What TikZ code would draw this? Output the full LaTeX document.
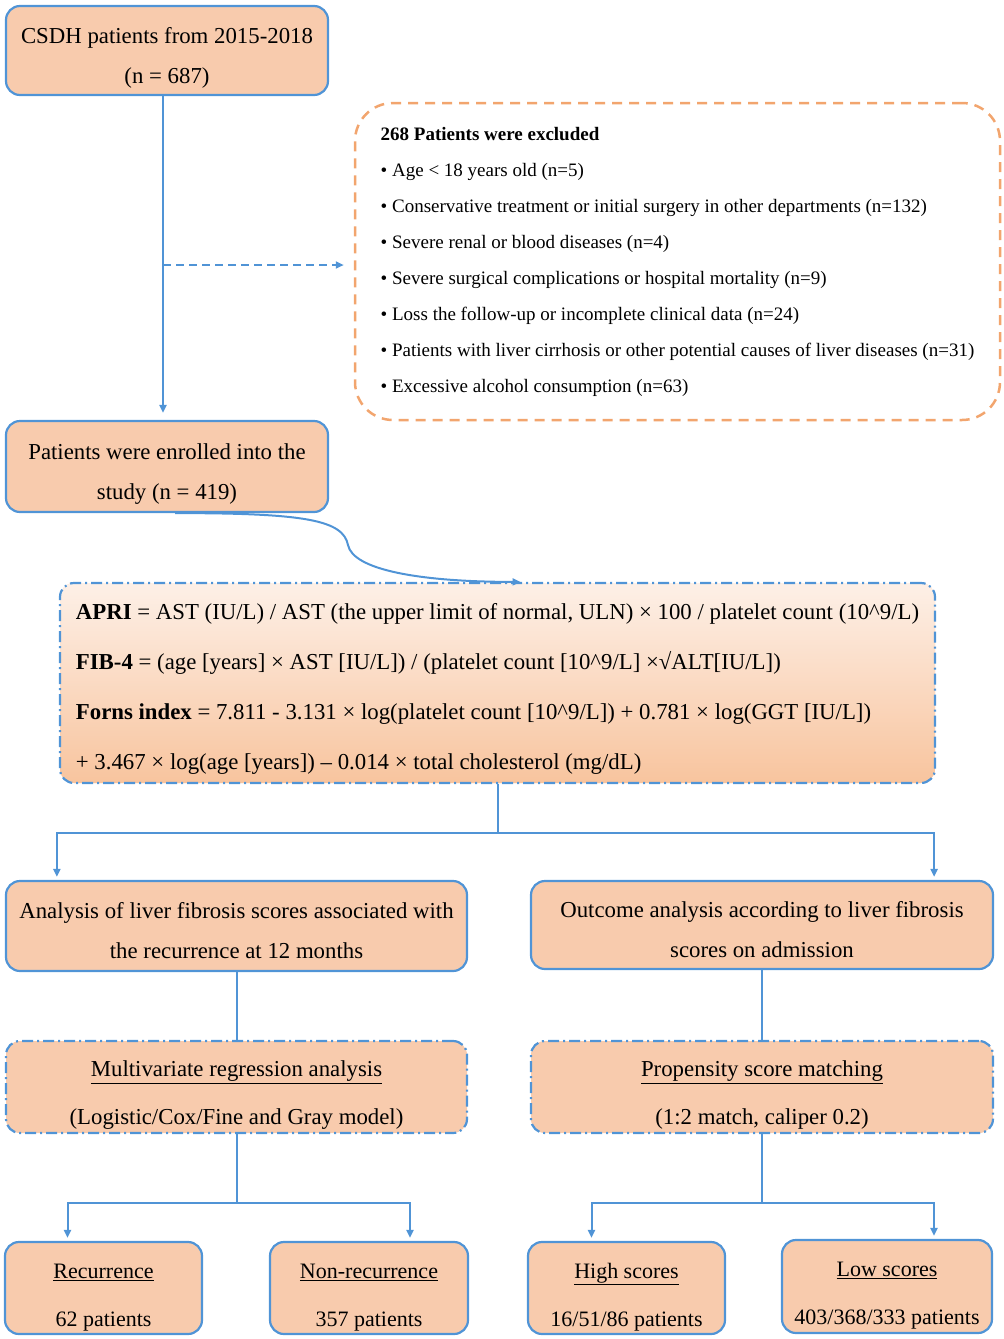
\documentclass[tikz,border=0pt]{standalone}
\usepackage{fontspec}
\setmainfont{Liberation Serif}
\usetikzlibrary{arrows.meta}

\definecolor{flowblue}{RGB}{80,148,214}
\definecolor{peach}{RGB}{248,203,173}
\definecolor{peachlight}{RGB}{253,240,231}
\definecolor{peachdeep}{RGB}{248,196,158}
\definecolor{exclorange}{RGB}{242,165,110}

% tall strut on the first line pushes the text down inside a box
\newcommand{\topgap}[1]{\rule{0pt}{#1pt}}

\begin{document}
\begin{tikzpicture}[x=1pt, y=-1pt,
    box/.style={draw=flowblue, line width=2.2pt, fill=peach, rounded corners=14pt, align=center, inner sep=0pt},
    dashdotbox/.style={box, dash pattern=on 11pt off 4pt on 2pt off 4pt},
    link/.style={draw=flowblue, line width=2pt},
    arrow/.style={link, -{Triangle[length=8pt,width=7pt]}},
    bigtext/.style={font=\fontsize{22.8}{40}\selectfont},
    twoline/.style={font=\fontsize{22.8}{48}\selectfont},
    grouptext/.style={font=\fontsize{22}{48}\selectfont}
]
\useasboundingbox (0,0) rectangle (1004,1339);

    % start
    \node[box, bigtext, minimum width=322, minimum height=89] (start) at (167,50.5)
        {\topgap{30}CSDH patients from 2015-2018\\(n = 687)};

    % excluded patients
    \node[draw=exclorange, line width=2.5pt, dash pattern=on 10pt off 7pt, rounded corners=38pt,
          fill=white, minimum width=645, minimum height=317, inner sep=0pt, align=left,
          font=\fontsize{19}{36}\selectfont] (excl) at (677.5,261.5)
        {\textbf{268 Patients were excluded}\\
         \textbullet\ Age < 18 years old (n=5)\\
         \textbullet\ Conservative treatment or initial surgery in other departments (n=132)\\
         \textbullet\ Severe renal or blood diseases (n=4)\\
         \textbullet\ Severe surgical complications or hospital mortality (n=9)\\
         \textbullet\ Loss the follow-up or incomplete clinical data (n=24)\\
         \textbullet\ Patients with liver cirrhosis or other potential causes of liver diseases (n=31)\\
         \textbullet\ Excessive alcohol consumption (n=63)};

    % enrolled
    \node[box, bigtext, minimum width=322, minimum height=91] (enrolled) at (167,466.5)
        {\topgap{30}Patients were enrolled into the\\study (n = 419)};

    % scores
    \node[dashdotbox, top color=peachlight, bottom color=peachdeep, minimum width=875,
          minimum height=200, align=left, font=\fontsize{22.8}{50}\selectfont] (formula) at (497.5,683)
        {\topgap{28}\textbf{APRI} = AST (IU/L) / AST (the upper limit of normal, ULN) × 100 / platelet count (10\textasciicircum 9/L)\\
         \textbf{FIB-4} = (age [years] × AST [IU/L]) / (platelet count [10\textasciicircum 9/L] ×√ALT[IU/L])\\
         \textbf{Forns index} = 7.811 - 3.131 × log(platelet count [10\textasciicircum 9/L]) + 0.781 × log(GGT [IU/L])\\
         + 3.467 × log(age [years]) – 0.014 × total cholesterol (mg/dL)};

    % two analyses
    \node[box, bigtext, minimum width=461, minimum height=90] (analysis) at (236.5,926)
        {\topgap{26}Analysis of liver fibrosis scores associated with\\the recurrence at 12 months};
    \node[box, bigtext, minimum width=462, minimum height=88] (outcome) at (762,925)
        {\topgap{26}Outcome analysis according to liver fibrosis\\scores on admission};

    \node[dashdotbox, twoline, minimum width=461, minimum height=92] (multi) at (236.5,1087)
        {\topgap{32}\underline{Multivariate regression analysis}\\(Logistic/Cox/Fine and Gray model)};
    \node[dashdotbox, twoline, minimum width=462, minimum height=92] (psm) at (762,1087)
        {\topgap{32}\underline{Propensity score matching}\\(1:2 match, caliper 0.2)};

    % groups
    \node[box, grouptext, minimum width=197, minimum height=92] (recur) at (103.5,1288)
        {\topgap{33}\underline{Recurrence}\\62 patients};
    \node[box, grouptext, minimum width=198, minimum height=92] (nonrecur) at (369,1288)
        {\topgap{33}\underline{Non-recurrence}\\357 patients};
    \node[box, grouptext, minimum width=197, minimum height=92] (high) at (626.5,1288)
        {\topgap{33}\underline{High scores}\\16/51/86 patients};
    \node[box, grouptext, minimum width=210, minimum height=93] (low) at (887,1286.5)
        {\topgap{33}\underline{Low scores}\\403/368/333 patients};

    % connectors
    \draw[arrow, shorten >=7pt] ([xshift=-4]start.south) -- ([xshift=-4]enrolled.north);
    \coordinate (exclsplit) at (163,265);
    \draw[arrow, dash pattern=on 8pt off 5pt, shorten >=10pt] (exclsplit) -- (exclsplit -| excl.west);
    \draw[arrow] ([xshift=8]enrolled.south) .. controls +(130,0) and +(-5,-25) .. (348,545)
        .. controls +(5,25) and +(-100,0) .. ([xshift=23]formula.north);

    \coordinate (fork) at (497.5,833);
    \draw[link] (formula.south) -- (fork);
    \draw[arrow] (fork) -| ([xshift=52,yshift=3]analysis.north west);
    \draw[arrow] (fork) -| ([xshift=-60,yshift=3]outcome.north east);

    \draw[link] (analysis.south) -- (multi.north);
    \draw[link] (outcome.south) -- (psm.north);

    \coordinate (forkL) at (236.5,1203);
    \draw[link] (multi.south) -- (forkL);
    \draw[arrow] (forkL) -| ([xshift=-36,yshift=3]recur.north);
    \draw[arrow] (forkL) -| ([xshift=41,yshift=3]nonrecur.north);

    \coordinate (forkR) at (762,1203);
    \draw[link] (psm.south) -- (forkR);
    \draw[arrow] (forkR) -| ([xshift=-35,yshift=3]high.north);
    \draw[arrow] (forkR) -| ([xshift=47,yshift=3]low.north);

\end{tikzpicture}
\end{document}
